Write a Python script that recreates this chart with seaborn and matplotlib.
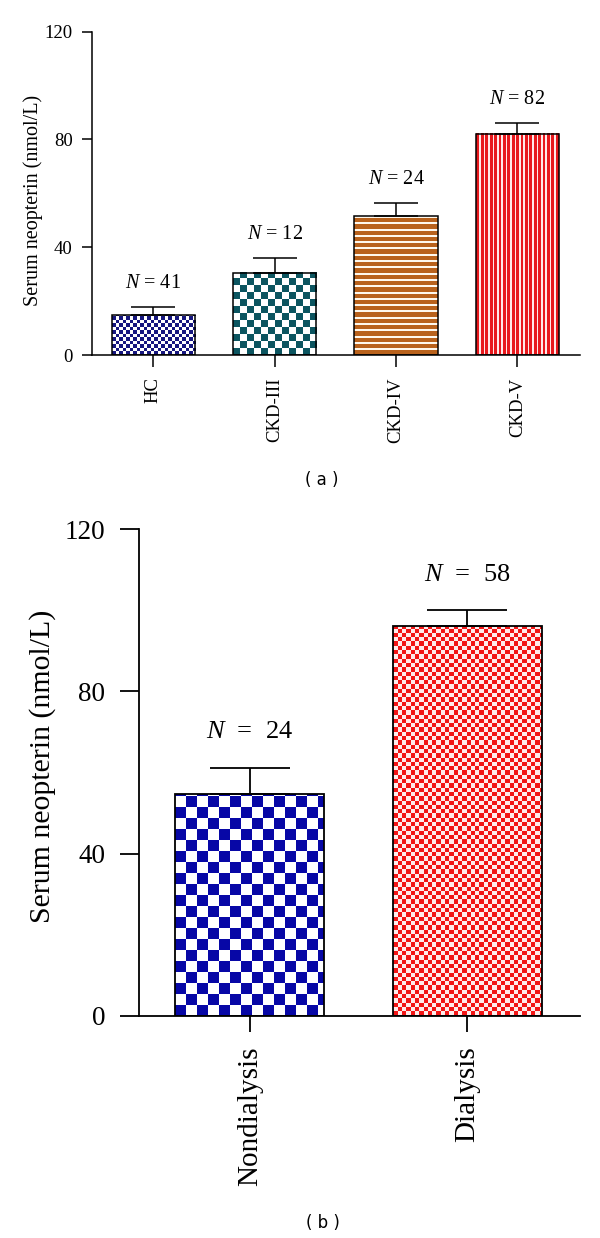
import numpy as np
import matplotlib
matplotlib.use("Agg")
import matplotlib.pyplot as plt
import seaborn as sns

# Panel (a): serum neopterin by CKD stage (mean + SEM)
groups_a = ["HC", "CKD-III", "CKD-IV", "CKD-V"]
means_a = [14.8, 30.6, 51.5, 82.2]
sem_a = [3.1, 5.4, 4.8, 4.0]
n_a = [41, 12, 24, 82]

# Panel (b): nondialysis vs dialysis (mean + SEM)
groups_b = ["Nondialysis", "Dialysis"]
means_b = [54.6, 96.1]
sem_b = [6.6, 3.9]
n_b = [24, 58]

yticks = [0, 40, 80, 120]

# fill textures per bar: (kind, colour, light colour, cell/period in px)
tex_a = [("check", "#16167f", "#ffffff", 3.5),
         ("check", "#0c5560", "#ffffff", 7.0),
         ("hstripe", "#b9621c", "#fff8ec", 6.3),
         ("vstripe", "#e8181c", "#ffe8e8", 4.4)]
tex_b = [("check", "#0707a6", "#ffffff", 11.0),
         ("check", "#f21616", "#ffecec", 4.3)]

sns.set_style("ticks")
plt.rcParams["font.family"] = ["Liberation Serif", "DejaVu Serif"]
plt.rcParams["mathtext.fontset"] = "custom"
plt.rcParams["mathtext.it"] = "Liberation Serif:italic"
plt.rcParams["mathtext.rm"] = "Liberation Serif"
plt.rcParams["text.color"] = "black"
plt.rcParams["axes.labelcolor"] = "black"
plt.rcParams["xtick.color"] = "black"
plt.rcParams["ytick.color"] = "black"
plt.rcParams["axes.edgecolor"] = "black"

W, H = 600, 1238
fig = plt.figure(figsize=(W / 100, H / 100), dpi=100)


def axes_px(left, right, top, bottom):
    # pixel box -> figure fraction
    return [left / W, 1 - bottom / H, (right - left) / W, (bottom - top) / H]


def texture(kind, c1, c2, cell, w, h):
    xs = np.arange(int(np.ceil(w)))[None, :]
    ys = np.arange(int(np.ceil(h)))[:, None]
    if kind == "check":
        mask = ((xs // cell + ys // cell) % 2) == 0
    elif kind == "hstripe":
        mask = (ys % cell) < 0.68 * cell + 0 * xs
    else:
        mask = (xs % cell) < 0.66 * cell + 0 * ys
    a = np.array(matplotlib.colors.to_rgb(c1))
    b = np.array(matplotlib.colors.to_rgb(c2))
    return np.where(mask[..., None], a, b)


def panel(ax, groups, means, sem, ns, tex, fs, xlim, cap, ticklen, pad, lw):
    sns.barplot(x=groups, y=means, ax=ax, color="white", width=0.685,
                edgecolor="black", linewidth=lw, errorbar=None)
    # one-sided (upper) SEM bars
    ax.errorbar(range(len(groups)), means, yerr=[np.zeros(len(sem)), sem],
                fmt="none", ecolor="black", elinewidth=lw, capsize=cap,
                capthick=lw, zorder=5)
    ax.set_xlim(*xlim)
    ax.set_ylim(0, 120)
    ax.set_yticks(yticks)
    ax.set_xlabel("")
    ax.set_ylabel("Serum neopterin (nmol/L)", fontsize=fs["ylab"])
    ax.tick_params(axis="y", labelsize=fs["ytick"], length=ticklen[0],
                   width=lw, pad=pad[0])
    ax.tick_params(axis="x", labelsize=fs["xtick"], length=ticklen[1],
                   width=lw, pad=pad[1], labelrotation=90)
    for sp in ["top", "right"]:
        ax.spines[sp].set_visible(False)
    for sp in ["left", "bottom"]:
        ax.spines[sp].set_linewidth(lw)
    ax.spines["left"].set_bounds(0, 120)
    for i, (m, s, n) in enumerate(zip(means, sem, ns)):
        ax.text(i, m + s + 8.7, f"$N${fs['gap']}={fs['gap']}{n}",
                ha="center", va="center", fontsize=fs["n"])

    # textured fills, clipped to each bar
    fig.canvas.draw()
    for p, (kind, c1, c2, cell) in zip(list(ax.patches), tex):
        bb = p.get_window_extent()
        x0, y0 = p.get_x(), p.get_y()
        img = texture(kind, c1, c2, cell, bb.width, bb.height)
        ax.imshow(img, extent=(x0, x0 + p.get_width(), y0, y0 + p.get_height()),
                  origin="lower", interpolation="nearest", aspect="auto",
                  zorder=1, clip_path=p, clip_on=True)
        p.set_facecolor("none")
        p.set_zorder(3)
    ax.set_xlim(*xlim)
    ax.set_ylim(0, 120)


ax_a = fig.add_axes(axes_px(91.7, 580, 31.7, 355))
panel(ax_a, groups_a, means_a, sem_a, n_a, tex_a,
      {"ylab": 14.5, "ytick": 13.5, "xtick": 13.5, "n": 14.5, "gap": " "},
      (-0.509, 3.517), 16, (7.2, 8.6), (6.5, 7.5), 1.1)
ax_a.yaxis.set_label_coords(-0.100, 0.477)

ax_b = fig.add_axes(axes_px(139.3, 580, 529.3, 1015.7))
panel(ax_b, groups_b, means_b, sem_b, n_b, tex_b,
      {"ylab": 21.5, "ytick": 19.5, "xtick": 21.0, "n": 19, "gap": "  "},
      (-0.509, 1.519), 29, (13.7, 11.5), (10.8, 10.5), 1.3)
ax_b.yaxis.set_label_coords(-0.190, 0.513)

fig.text(321.7 / W, 1 - 480 / H, "( a )", ha="center", va="center",
         family="DejaVu Sans", fontsize=12)
fig.text(323 / W, 1 - 1223 / H, "( b )", ha="center", va="center",
         family="DejaVu Sans", fontsize=12)

fig.savefig("out.png", dpi=100, facecolor="white")
